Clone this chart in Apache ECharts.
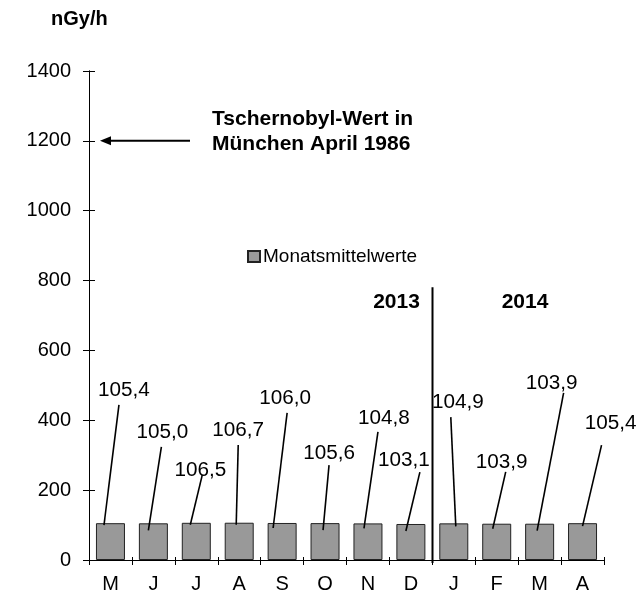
<!DOCTYPE html>
<html>
<head>
<meta charset="utf-8">
<script src="https://cdn.jsdelivr.net/npm/echarts@6/dist/echarts.min.js"></script>
<style>html,body{margin:0;padding:0;background:#fff}#c{width:639px;height:595px}</style>
</head>
<body>
<div id="c"></div>
<script>
// ---- data ----
const months = ['M','J','J','A','S','O','N','D','J','F','M','A'];
const values = [105.4,105.0,106.5,106.7,106.0,105.6,104.8,103.1,104.9,103.9,103.9,105.4];
const seriesName = 'Monatsmittelwerte';
const yMin = 0, yMax = 1400, yStep = 200;
const chernobylValue = 1200;
const yearLabels = ['2013','2014'];
const unitLabel = 'nGy/h';
const noteLines = ['Tschernobyl-Wert in','München April 1986'];

// ---- label layout (positions only) ----
const labelLevel = [487,367,258,372,464,306,407,286,452,281,507,392]; // label centre height on value scale
const labelDx  = [13.5,9,4,-1,3,4,16,-7,4,5,12,28];
const lineTopDx = [-5,-1,2,0,2,0,-6,16,-7,4,12,-9];
const lineTopDy = [15,15,5,15,15,12,14,12,15,10,10,22];
const lineBotDx = [-6.5,-5,-6,-3,-9,-2,-4,-5,2,-4,-2.5,0];
const lineBotDy = [2,7,2,2,5,7,5,7,3,5,7,3];

const FONT = '"Liberation Sans", Arial, sans-serif';
const fmt = v => v.toFixed(1).replace('.', ',');

const chart = echarts.init(document.getElementById('c'), null, {renderer:'canvas'});
const axisCommon = {
  axisLine:{show:true, lineStyle:{color:'#000', width:1}},
  splitLine:{show:false}
};
chart.setOption({
  animation:false,
  backgroundColor:'#fff',
  grid:{left:89, right:35, top:71, bottom:35, containLabel:false},
  legend:{
    data:[seriesName], left:247, top:247, padding:0, icon:'rect', itemWidth:12, itemHeight:11,
    textStyle:{fontFamily:FONT, fontSize:19, color:'#000', padding:[0,0,0,-2]}
  },
  xAxis:[
    Object.assign({type:'category', data:months, position:'bottom',
      axisTick:{show:true, inside:false, length:5, alignWithLabel:false, lineStyle:{color:'#000'}},
      axisLabel:{fontFamily:FONT, fontSize:20, color:'#000', margin:14, interval:0}}, axisCommon),
    Object.assign({type:'category', data:months, position:'bottom',
      axisTick:{show:true, inside:true, length:3, lineStyle:{color:'#000'}},
      axisLabel:{show:false}}, axisCommon)
  ],
  yAxis:[
    Object.assign({type:'value', min:yMin, max:yMax, interval:yStep, position:'left',
      axisTick:{show:true, inside:false, length:6, lineStyle:{color:'#000'}},
      axisLabel:{fontFamily:FONT, fontSize:20, color:'#000', margin:18, formatter:v => String(v)}}, axisCommon),
    Object.assign({type:'value', min:yMin, max:yMax, interval:yStep, position:'left',
      axisTick:{show:true, inside:true, length:6, lineStyle:{color:'#000'}},
      axisLabel:{show:false}}, axisCommon)
  ],
  series:[
    {
      name:seriesName, type:'bar', data:values, barWidth:29,
      itemStyle:{color:'#999999', borderColor:'#222', borderWidth:1}
    },
    {
      type:'custom', z:5, silent:true,
      data: values.map((v,i)=>[i,v]),
      encode:{x:0, y:1},
      renderItem:function(params, api){
        const i = params.dataIndex;
        const top = api.coord([api.value(0), api.value(1)]);
        const lab = api.coord([api.value(0), labelLevel[i]]);
        const tx = top[0] + labelDx[i], ty = lab[1];
        return {type:'group', children:[
          {type:'line', shape:{x1:tx+lineTopDx[i], y1:ty+lineTopDy[i], x2:top[0]+lineBotDx[i], y2:top[1]+lineBotDy[i]},
           style:{stroke:'#000', lineWidth:1.6}},
          {type:'text', x:tx, y:ty, style:{text:fmt(values[i]), fill:'#000', font:'20.7px ' + FONT, align:'center', verticalAlign:'middle'}}
        ]};
      }
    }
  ]
});

// annotations placed through the chart's own scales
const yC = chart.convertToPixel({yAxisIndex:0}, chernobylValue);
const xD = chart.convertToPixel({xAxisIndex:0}, 7);
const xJ = chart.convertToPixel({xAxisIndex:0}, 8);
const xDiv = Math.round((xD + xJ) / 2) + 0.5;
const yDivTop = chart.convertToPixel({yAxisIndex:0}, 781);
const yBase = chart.convertToPixel({yAxisIndex:0}, yMin);

chart.setOption({
  graphic:[
    {type:'text', left:51, top:9, style:{text:unitLabel, font:'bold 20px ' + FONT, fill:'#000'}},
    {type:'line', shape:{x1:109, y1:yC, x2:190, y2:yC}, style:{stroke:'#000', lineWidth:2}},
    {type:'polygon', shape:{points:[[100,yC],[111,yC-4.5],[111,yC+4.5]]}, style:{fill:'#000'}},
    {type:'text', x:212, y:yC - 34, style:{text:noteLines.join('\n'), font:'bold 21px ' + FONT, fill:'#000', lineHeight:25, verticalAlign:'top'}},
    {type:'line', shape:{x1:xDiv, y1:yDivTop, x2:xDiv, y2:yBase + 3}, style:{stroke:'#000', lineWidth:2}},
    {type:'text', x:396.5, y:302, style:{text:yearLabels[0], font:'bold 21px ' + FONT, fill:'#000', align:'center', verticalAlign:'middle'}},
    {type:'text', x:525, y:302, style:{text:yearLabels[1], font:'bold 21px ' + FONT, fill:'#000', align:'center', verticalAlign:'middle'}}
  ]
});
</script>
</body>
</html>
